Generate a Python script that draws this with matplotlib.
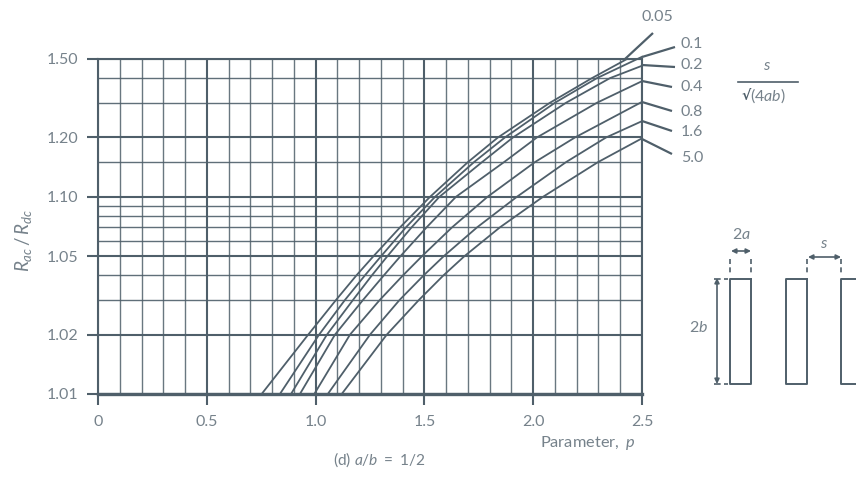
import numpy as np
import matplotlib
matplotlib.use("Agg")
import matplotlib.pyplot as plt

plt.rcParams['font.family'] = ['Lato', 'DejaVu Sans']
plt.rcParams['mathtext.fontset'] = 'custom'
plt.rcParams['mathtext.rm'] = 'Lato'
plt.rcParams['mathtext.it'] = 'Lato:italic'
plt.rcParams['mathtext.default'] = 'it'

DARK = '#4f5f6a'
TEXT = '#76828b'

# ratio values where the curves were read
r_read = [1.01, 1.02, 1.03, 1.04, 1.05, 1.07, 1.10, 1.15, 1.20, 1.30, 1.40]

curve_labels = ['0.05', '0.1', '0.2', '0.4', '0.8', '1.6', '5.0']
p_005 = [0.752, 0.966, 1.094, 1.188, 1.266, 1.388, 1.526, 1.700, 1.838, 2.077, 2.270, 2.431]
p_01 = [0.836, 1.016, 1.135, 1.227, 1.301, 1.415, 1.549, 1.728, 1.870, 2.100, 2.293, 2.5]
p_02 = [0.887, 1.052, 1.172, 1.259, 1.330, 1.441, 1.569, 1.765, 1.907, 2.151, 2.353, 2.5]
p_04 = [0.928, 1.089, 1.218, 1.314, 1.390, 1.510, 1.645, 1.866, 2.017, 2.293, 2.5]
p_08 = [0.994, 1.158, 1.295, 1.402, 1.489, 1.627, 1.790, 2.008, 2.192, 2.5]
p_16 = [1.056, 1.25, 1.386, 1.497, 1.589, 1.742, 1.925, 2.151, 2.335, 2.5]
p_50 = [1.12, 1.327, 1.475, 1.588, 1.684, 1.847, 2.045, 2.298, 2.5]
r_end = [1.50, 1.513, 1.462, 1.386, 1.303, 1.242, 1.198]

y_ticks = [1.01, 1.02, 1.05, 1.10, 1.20, 1.50]
y_minor = [1.03, 1.04, 1.06, 1.07, 1.08, 1.09, 1.15, 1.30, 1.40]
x_ticks = [0, 0.5, 1.0, 1.5, 2.0, 2.5]
x_tick_labels = ['0', '0.5', '1.0', '1.5', '2.0', '2.5']
x_minor = [0.1, 0.2, 0.3, 0.4, 0.6, 0.7, 0.8, 0.9, 1.1, 1.2, 1.3, 1.4,
           1.6, 1.7, 1.8, 1.9, 2.1, 2.2, 2.3, 2.4]


def to_log(r):
    return np.log10(np.maximum(np.asarray(r, dtype=float) - 1, 1e-6))


def from_log(v):
    return 10 ** np.asarray(v, dtype=float) + 1


W, H = 856, 478
fig = plt.figure(figsize=(W / 100, H / 100), dpi=100)
ax = fig.add_axes([98 / W, 1 - 394 / H, (642 - 98) / W, (394 - 59) / H])
ax.set_yscale('function', functions=(to_log, from_log))
ax.set_xlim(0, 2.5)
ax.set_ylim(1.01, 1.50)

for x in x_minor:
    ax.axvline(x, color=DARK, lw=1.0, alpha=0.85, zorder=1)
for y in y_minor:
    ax.axhline(y, color=DARK, lw=1.0, alpha=0.9, zorder=1)
for x in x_ticks:
    ax.axvline(x, color=DARK, lw=1.5, zorder=2)
for y in y_ticks:
    ax.axhline(y, color=DARK, lw=1.5, zorder=2)

series = [p_005, p_01, p_02, p_04, p_08, p_16, p_50]
for ps, end in zip(series, r_end):
    rs = r_read[:len(ps) - 1] + [end]
    ax.plot(ps, rs, color=DARK, lw=1.3, zorder=3, clip_on=False)

for side in ax.spines:
    ax.spines[side].set_color(DARK)
    ax.spines[side].set_linewidth(1.5)
ax.spines['bottom'].set_linewidth(2.4)

ax.set_xticks(x_ticks)
ax.set_xticklabels(x_tick_labels)
ax.set_yticks(y_ticks)
ax.set_yticklabels(['%.2f' % v for v in y_ticks])
ax.minorticks_off()
ax.tick_params(axis='both', length=8, width=1.5, color=DARK, labelcolor=TEXT,
               labelsize=11.5)
ax.tick_params(axis='x', pad=7)
ax.tick_params(axis='y', pad=6)

# overlay in pixels for the leaders, labels and the conductor sketch
ov = fig.add_axes([0, 0, 1, 1], facecolor='none')
ov.set_xlim(0, W)
ov.set_ylim(H, 0)
ov.axis('off')

leader_start = [(625, 59), (642, 57), (642, 65), (642, 81), (642, 102), (642, 121), (642, 139)]
leader_end = [(653, 33), (675, 47), (675, 67), (672, 87), (672, 111), (672, 131), (672, 154)]
label_pos = [(642, 17), (681, 44), (681, 65), (681, 87), (681, 112), (681, 132), (681, 158)]
for a, b, c, lab in zip(leader_start, leader_end, label_pos, curve_labels):
    ov.plot([a[0], b[0]], [a[1], b[1]], color=DARK, lw=1.6, solid_capstyle='butt')
    ov.text(c[0], c[1], lab, color=TEXT, fontsize=11.5, ha='left', va='center')

ov.text(767, 66, r'$s$', color=TEXT, fontsize=11.5, ha='center', va='center')
ov.plot([738, 798], [82, 82], color=DARK, lw=1.2)
ov.text(741, 96, '√', color=DARK, fontsize=10, ha='left', va='center',
        family='DejaVu Sans', weight='bold')
ov.text(750, 96, r'$\mathrm{(4}ab\mathrm{)}$', color=TEXT, fontsize=11.5, ha='left', va='center')

ov.text(24, 240, r'$R_{ac}\,/\,R_{dc}$', color=TEXT, fontsize=13.5, rotation=90,
        ha='center', va='center')
ov.text(635, 443, r'$\mathrm{Parameter,}\ p$', color=TEXT, fontsize=11.8, ha='right', va='center')
ov.text(379, 460, r'$\mathrm{(d)}\ a/b\ \mathrm{=\ 1/2}$', color=TEXT, fontsize=11.2,
        ha='center', va='center')

# conductor sketch
for left, right in [(730.5, 751.5), (786, 807), (841.5, 870)]:
    ov.plot([right, left, left, right, right], [278.5, 278.5, 383.5, 383.5, 278.5],
            color=DARK, lw=1.4)
for x, y0, y1 in [(730.5, 259, 275), (751.5, 259, 275), (807, 259, 275), (841.5, 259, 275)]:
    ov.plot([x, x], [y0, y1], color=DARK, lw=1.2, dashes=(3, 2))
for y in (278.5, 383.5):
    ov.plot([714, 728], [y, y], color=DARK, lw=1.2, dashes=(4, 2))
arrow = dict(arrowstyle='<|-|>', color=DARK, lw=1.2, mutation_scale=7, shrinkA=0, shrinkB=0)
ov.annotate('', xy=(731, 251), xytext=(751, 251), arrowprops=arrow)
ov.annotate('', xy=(808, 257), xytext=(841, 257), arrowprops=arrow)
ov.annotate('', xy=(717, 278), xytext=(717, 384), arrowprops=arrow)
ov.text(741, 234, r'$\mathrm{2}a$', color=TEXT, fontsize=11.5, ha='center', va='center')
ov.text(824, 244, r'$s$', color=TEXT, fontsize=11.5, ha='center', va='center')
ov.text(699, 327, r'$\mathrm{2}b$', color=TEXT, fontsize=11.5, ha='center', va='center')

fig.savefig('out.png', dpi=100)
